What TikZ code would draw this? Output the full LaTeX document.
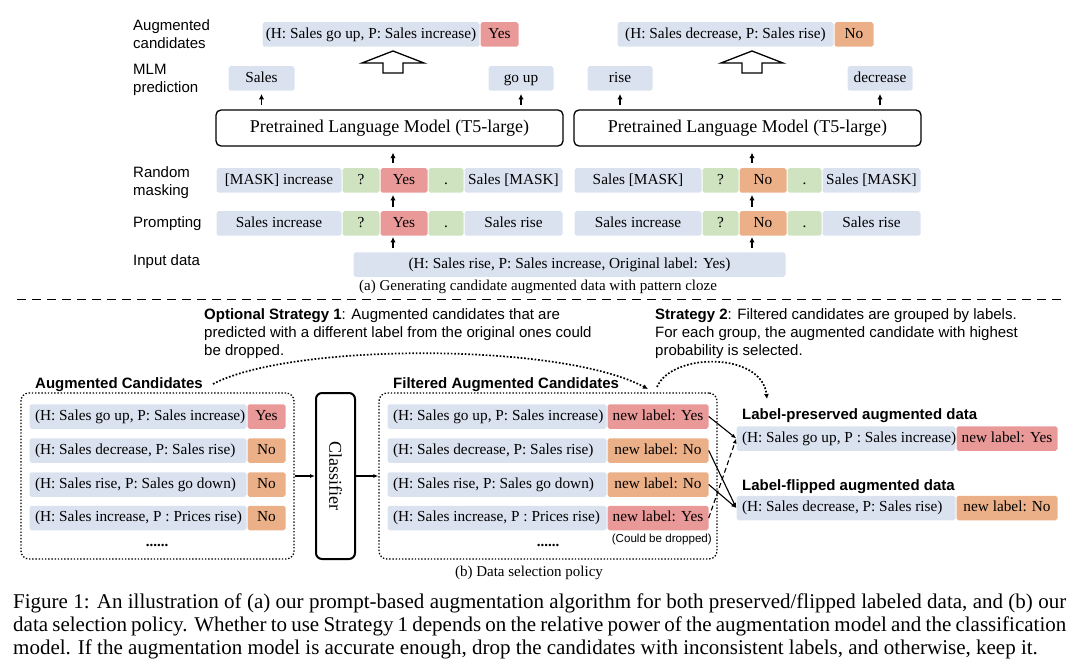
\documentclass[tikz,border=0pt]{standalone}
\usepackage{fontspec}
\usepackage{graphicx}
\setmainfont{Liberation Serif}
\setsansfont{Liberation Sans}
\usetikzlibrary{arrows.meta}
\definecolor{cblue}{HTML}{DAE2F0}
\definecolor{cred}{HTML}{EA9999}
\definecolor{corange}{HTML}{EBB088}
\definecolor{cgreen}{HTML}{D0E3C1}
\tikzset{
 cellbox/.style={inner sep=0pt, minimum height=24.5pt, rounded corners=1.8pt, font=\fontsize{15.3}{18}\selectfont, text height=10.5pt, text depth=3pt},
 plm/.style={draw, line width=1.3pt, rounded corners=5pt, minimum width=347pt, minimum height=36pt, inner sep=0pt, font=\fontsize{18}{21}\selectfont},
 rowlabel/.style={font=\sffamily\fontsize{15}{18.5}\selectfont, align=left, anchor=west, inner sep=0pt},
 uparr/.style={line width=1.8pt, -{Latex[length=5.5pt,width=5.5pt]}},
 thinarr/.style={line width=1.1pt, -{Latex[length=5pt,width=4pt]}},
 hollow/.style={draw, line width=1.3pt, fill=white, line join=miter},
 dotbox/.style={draw, line width=1.3pt, dash pattern=on 1.4pt off 1.8pt, rounded corners=8pt, inner sep=0pt},
 dotarr/.style={line width=1.7pt, dash pattern=on 1.7pt off 1.8pt, -{Latex[length=5pt,width=5pt]}},
 titletext/.style={font=\sffamily\bfseries\fontsize{15}{18}\selectfont, inner sep=0pt, anchor=base west},
 notetext/.style={font=\sffamily\fontsize{15}{18}\selectfont, align=left, anchor=north west, inner sep=0pt},
 captext/.style={font=\fontsize{15}{18}\selectfont, inner sep=0pt},
 figcap/.style={font=\fontsize{21}{23}\selectfont, inner sep=0pt, anchor=base west},
}
\newcommand\mkcell[6]{\node[cellbox,fill=#5,minimum width={#3-#2-1}] (#1) at ({(#2+#3)/2},#4) {#6};}
\newcommand\mkcellL[6]{\pgfmathsetlengthmacro\cw{#3-#2-12}\node[cellbox,fill=#5,minimum width={#3-#2-1}] (#1) at ({(#2+#3)/2},#4) {\hbox to \cw{#6\hss}};}
\begin{document}
\begin{tikzpicture}[x=1pt,y=-1pt]
\useasboundingbox (0,0) rectangle (1080,666);

% ---------- (a) ----------
\node[rowlabel] (lAug) at (133,34) {Augmented\\candidates};
\node[rowlabel] (lMLM) at (133,80) {MLM\\prediction};
\node[rowlabel] (lRand) at (133,182.5) {Random\\masking};
\node[rowlabel] (lProm) at (133,224) {Prompting};
\node[rowlabel] (lInp) at (133,262) {Input data};

\mkcell{augL}{262}{480}{34.5}{cblue}{(H: Sales go up, P: Sales increase)}
\mkcell{augLy}{480}{519}{34.5}{cred}{Yes}
\mkcell{augR}{617}{834}{34.5}{cblue}{(H: Sales decrease, P: Sales rise)}
\mkcell{augRn}{834}{874}{34.5}{corange}{No}

\draw[hollow] (393,51) -- (362,63) -- (383,63) -- (383,73) -- (403,73) -- (403,63) -- (424,63) -- cycle;
\draw[hollow] (752,51) -- (721,63) -- (742,63) -- (742,73) -- (762,73) -- (762,63) -- (783,63) -- cycle;

\mkcell{mS}{228}{295}{78.5}{cblue}{Sales}
\mkcell{mG}{488}{554}{78.5}{cblue}{go up}
\mkcell{mR}{587}{653}{78.5}{cblue}{rise}
\mkcell{mD}{847}{913}{78.5}{cblue}{decrease}

\node[plm] (plmL) at (389.5,128) {Pretrained Language Model (T5-large)};
\node[plm] (plmR) at (747.5,128) {Pretrained Language Model (T5-large)};

\mkcell{rL1}{216}{342}{180.5}{cblue}{[MASK] increase}
\mkcell{rL2}{342}{380}{180.5}{cgreen}{?}
\mkcell{rL3}{380}{428}{180.5}{cred}{Yes}
\mkcell{rL4}{428}{464}{180.5}{cgreen}{.}
\mkcell{rL5}{464}{563}{180.5}{cblue}{Sales [MASK]}
\mkcell{rR1}{574}{702}{180.5}{cblue}{Sales [MASK]}
\mkcell{rR2}{702}{739}{180.5}{cgreen}{?}
\mkcell{rR3}{739}{787}{180.5}{corange}{No}
\mkcell{rR4}{787}{822}{180.5}{cgreen}{.}
\mkcell{rR5}{822}{921}{180.5}{cblue}{Sales [MASK]}

\mkcell{pL1}{216}{342}{223.5}{cblue}{Sales increase}
\mkcell{pL2}{342}{380}{223.5}{cgreen}{?}
\mkcell{pL3}{380}{428}{223.5}{cred}{Yes}
\mkcell{pL4}{428}{464}{223.5}{cgreen}{.}
\mkcell{pL5}{464}{563}{223.5}{cblue}{Sales rise}
\mkcell{pR1}{574}{702}{223.5}{cblue}{Sales increase}
\mkcell{pR2}{702}{739}{223.5}{cgreen}{?}
\mkcell{pR3}{739}{787}{223.5}{corange}{No}
\mkcell{pR4}{787}{822}{223.5}{cgreen}{.}
\mkcell{pR5}{822}{921}{223.5}{cblue}{Sales rise}

\mkcell{inp}{353}{786}{264.5}{cblue}{(H: Sales rise, P: Sales increase, Original label: Yes)}

% up arrows
\draw[uparr, shorten <=4pt, shorten >=1pt] ([xshift=-11pt]pL3.south |- inp.north) -- ([xshift=-11pt]pL3.south);
\draw[uparr, shorten <=4pt, shorten >=1pt] ([xshift=-11pt]pR3.south |- inp.north) -- ([xshift=-11pt]pR3.south);
\draw[uparr, shorten <=4pt, shorten >=2pt] ([xshift=-11pt]pL3.north) -- ([xshift=-11pt]rL3.south);
\draw[uparr, shorten <=4pt, shorten >=2pt] ([xshift=-11pt]pR3.north) -- ([xshift=-11pt]rR3.south);
\draw[uparr, shorten <=5pt, shorten >=6pt] ([xshift=-11pt]rL3.north) -- ([xshift=-11pt]rL3.north |- plmL.south);
\draw[uparr, shorten <=5pt, shorten >=6pt] ([xshift=-11pt]rR3.north) -- ([xshift=-11pt]rR3.north |- plmR.south);
\draw[uparr, shorten <=4pt, shorten >=3pt] (mS.south |- plmL.north) -- (mS.south);
\draw[uparr, shorten <=4pt, shorten >=3pt] (mG.south |- plmL.north) -- (mG.south);
\draw[uparr, shorten <=4pt, shorten >=3pt] (mR.south |- plmR.north) -- (mR.south);
\draw[uparr, shorten <=4pt, shorten >=3pt] (mD.south |- plmR.north) -- (mD.south);

\node[captext] (capA) at (538,287) {(a) Generating candidate augmented data with pattern cloze};

\coordinate (sepL) at (17,299.5);
\coordinate (sepR) at (1063,299.5);
\draw[line width=1.2pt, dash pattern=on 9pt off 6pt] (sepL) -- (sepR);

% ---------- (b) ----------
\node[notetext] (st1) at (204,308.2) {\textbf{Optional Strategy 1}: Augmented candidates that are\\predicted with a different label from the original ones could\\be dropped.};
\node[notetext] (st2) at (655,308.2) {\textbf{Strategy 2}: Filtered candidates are grouped by labels.\\For each group, the augmented candidate with highest\\probability is selected.};

\node[titletext] (augT) at (35,388.5) {Augmented Candidates};
\node[titletext] (filT) at (393,388.5) {Filtered Augmented Candidates};
\node[titletext] (preT) at (742,419.5) {Label-preserved augmented data};
\node[titletext] (flpT) at (742,490.5) {Label-flipped augmented data};

\node[dotbox, minimum width=273pt, minimum height=166pt] (augbox) at (157.5,476) {};
\node[dotbox, minimum width=338pt, minimum height=166pt] (filbox) at (548,476) {};
\node[draw, line width=2pt, rounded corners=6pt, minimum width=39pt, minimum height=166pt, inner sep=0pt, font=\fontsize{18}{21}\selectfont] (clf) at (335.5,476) {\rotatebox{-90}{Classifier}};

\mkcellL{a1}{29}{247}{416.5}{cblue}{(H: Sales go up, P: Sales increase)}
\mkcell{a1l}{247}{286}{416.5}{cred}{Yes}
\mkcellL{a2}{29}{247}{450.5}{cblue}{(H: Sales decrease, P: Sales rise)}
\mkcell{a2l}{247}{286}{450.5}{corange}{No}
\mkcellL{a3}{29}{247}{484.5}{cblue}{(H: Sales rise, P: Sales go down)}
\mkcell{a3l}{247}{286}{484.5}{corange}{No}
\mkcellL{a4}{29}{247}{518}{cblue}{(H: Sales increase, P : Prices rise)}
\mkcell{a4l}{247}{286}{518}{corange}{No}
\node[font=\bfseries\fontsize{15}{18}\selectfont, inner sep=0pt] (adots) at (157,545) {......};

\mkcellL{f1}{387}{607}{416.5}{cblue}{(H: Sales go up, P: Sales increase)}
\mkcell{f1l}{607}{709}{416.5}{cred}{new label: Yes}
\mkcellL{f2}{387}{607}{450.5}{cblue}{(H: Sales decrease, P: Sales rise)}
\mkcell{f2l}{607}{709}{450.5}{corange}{new label: No}
\mkcellL{f3}{387}{607}{484.5}{cblue}{(H: Sales rise, P: Sales go down)}
\mkcell{f3l}{607}{709}{484.5}{corange}{new label: No}
\mkcellL{f4}{387}{607}{518}{cblue}{(H: Sales increase, P : Prices rise)}
\mkcell{f4l}{607}{709}{518}{cred}{new label: Yes}
\node[font=\bfseries\fontsize{15}{18}\selectfont, inner sep=0pt] (fdots) at (548,545) {......};
\node[font=\sffamily\fontsize{11.6}{14}\selectfont, inner sep=0pt, anchor=east] (drop) at (712,539) {(Could be dropped)};

\mkcellL{pr}{736}{956}{438.5}{cblue}{(H: Sales go up, P : Sales increase)}
\mkcell{prl}{956}{1058}{438.5}{cred}{new label: Yes}
\mkcellL{fl}{736}{956}{508}{cblue}{(H: Sales decrease, P: Sales rise)}
\mkcell{fll}{956}{1058}{508}{corange}{new label: No}

\node[captext] (capB) at (529,573) {(b) Data selection policy};

% connectors
\draw[thinarr] (augbox.east) -- (clf.west);
\draw[thinarr] (clf.east) -- (filbox.west);
\draw[thinarr] (f1l.east) -- (pr.west);
\draw[thinarr] (f2l.east) -- (fl.west);
\draw[thinarr] (f3l.east) -- (fl.west);
\draw[thinarr, dash pattern=on 5pt off 3pt] (f4l.east) -- (pr.west);

\coordinate (c1s) at (213,384);
\coordinate (c1e) at (648,389);
\coordinate (c2s) at (657,387);
\coordinate (c2e) at (767,399);
\draw[dotarr] (c1s) .. controls (290,343) and (560,342) .. (c1e);
\draw[dotarr] (c2s) .. controls (672,352) and (762,352) .. (c2e);

% figure caption
\node[figcap] (cap1) at (13,608) {\makebox[1053pt][s]{Figure 1: An illustration of (a) our prompt-based augmentation algorithm for both preserved/flipped labeled data, and (b) our}};
\node[figcap] (cap2) at (13,631) {\makebox[1053pt][s]{data selection policy. Whether to use Strategy 1 depends on the relative power of the augmentation model and the classification}};
\node[figcap] (cap3) at (13,654) {model. If the augmentation model is accurate enough, drop the candidates with inconsistent labels, and otherwise, keep it.};
\end{tikzpicture}
\end{document}
